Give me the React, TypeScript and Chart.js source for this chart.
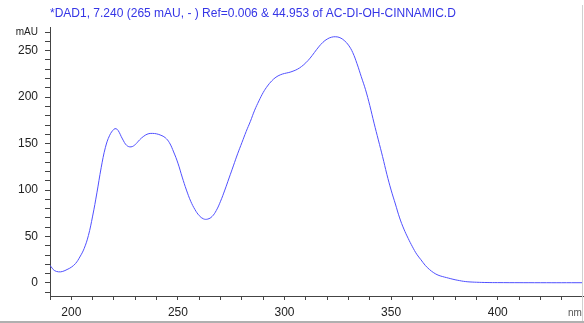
import React, { useEffect, useRef } from "react";
import { Chart, registerables } from "chart.js";

Chart.register(...registerables);

const titleText = "*DAD1, 7.240 (265 mAU, - ) Ref=0.006 & 44.953 of AC-DI-OH-CINNAMIC.D";

const wavelengths = [
  190, 191, 192, 194, 196, 198, 200, 202, 204, 206, 208, 210, 212, 214, 216, 218, 220, 221, 222, 224,
  226, 228, 230, 232, 234, 236, 238, 240, 242, 244, 246, 248, 250, 252, 254, 256, 258, 260, 262, 264,
  266, 268, 270, 272, 274, 276, 278, 280, 282, 284, 286, 288, 290, 292, 294, 296, 298, 300, 302, 304,
  306, 308, 310, 312, 314, 316, 318, 320, 322, 324, 326, 328, 330, 332, 334, 336, 338, 340, 342, 344,
  346, 348, 350, 352, 354, 356, 358, 360, 362, 364, 366, 368, 370, 372, 374, 376, 378, 380, 382, 384,
  386, 388, 390, 395, 400, 420, 440,
];

const absorbance = [
  19, 16, 13.5, 12, 12.5, 14.5, 17, 21, 28, 37, 51, 72, 97, 124, 146, 159, 165.5, 166, 164, 155,
  148, 146.5, 149, 154, 158, 160.5, 161, 160.5, 159, 156.5, 151, 141, 129, 114, 100, 88, 79, 72.5, 69, 68.8,
  71.5, 78, 88, 100, 113, 126, 139, 151, 163, 174, 186, 196, 205, 212, 217.5, 221.5, 224, 225.5, 226.5, 228,
  230, 233, 237, 242, 248, 254, 259, 262.5, 264.5, 265, 264, 261, 256, 248, 236, 222, 208, 191, 172, 154,
  136, 117, 100, 85, 70, 58, 48, 39, 31, 25, 19, 14.5, 11, 8.5, 7, 5.8, 4.6, 3.5, 2.6, 1.8,
  1.3, 1, 0.8, 0.5, 0.4, 0.3, 0.3,
];

const xTicks = [190, 200, 210, 220, 230, 240, 250, 260, 270, 280, 290, 300, 310, 320, 330, 340, 350, 360, 370, 380, 390, 400, 410, 420, 430];
const xLabels = [200, 250, 300, 350, 400];
const yTicks = [-10, 0, 10, 20, 30, 40, 50, 60, 70, 80, 90, 100, 110, 120, 130, 140, 150, 160, 170, 180, 190, 200, 210, 220, 230, 240, 250, 260, 270];
const yLabels = [0, 50, 100, 150, 200, 250];
const yUnitTick = 270;

const FONT = '"Liberation Sans", Arial, sans-serif';

export default function App() {
  const ref = useRef<HTMLCanvasElement | null>(null);

  useEffect(() => {
    if (!ref.current) return;
    const decor = {
      id: "decor",
      afterDraw(chart: any) {
        const ctx = chart.ctx;
        ctx.save();
        ctx.font = `12px ${FONT}`;
        ctx.fillStyle = "#3535e6";
        ctx.textBaseline = "alphabetic";
        ctx.textAlign = "left";
        ctx.fillText(titleText, 50, 17);
        ctx.font = `10px ${FONT}`;
        ctx.fillStyle = "#555";
        ctx.fillText("nm", 568, 316);
        ctx.strokeStyle = "#d0d0d0";
        ctx.lineWidth = 1;
        ctx.beginPath();
        ctx.moveTo(582.5, 5);
        ctx.lineTo(582.5, 323);
        ctx.stroke();
        ctx.fillStyle = "#b0b0b0";
        ctx.fillRect(0, 321, 584, 2);
        ctx.restore();
      },
    };
    const chart = new Chart(ref.current, {
      type: "line",
      data: {
        datasets: [
          {
            data: wavelengths.map((x, i) => ({ x, y: absorbance[i] })),
            borderColor: "#5050ff",
            borderWidth: 1,
            pointRadius: 0,
            tension: 0.4,
            fill: false,
          },
        ],
      },
      options: {
        animation: false,
        responsive: false,
        layout: { padding: { top: 27, right: 1, left: 0, bottom: 0 } },
        plugins: { legend: { display: false }, tooltip: { enabled: false }, title: { display: false } },
        scales: {
          x: {
            type: "linear",
            min: 190,
            max: 440,
            afterBuildTicks: (axis: any) => {
              axis.ticks = xTicks.map((v) => ({ value: v }));
            },
            afterFit: (scale: any) => {
              scale.height = 27;
            },
            grid: { drawOnChartArea: false, drawTicks: true, tickLength: 4, color: "#444" },
            border: { display: true, color: "#444", width: 1 },
            ticks: {
              autoSkip: false,
              maxRotation: 0,
              padding: 5,
              color: "#222",
              font: { family: FONT, size: 12 },
              callback: (v: any) => (xLabels.includes(Number(v)) ? String(v) : ""),
            },
          },
          y: {
            type: "linear",
            min: -14,
            max: 275.5,
            afterBuildTicks: (axis: any) => {
              axis.ticks = yTicks.map((v) => ({ value: v }));
            },
            afterFit: (scale: any) => {
              scale.width = 50;
            },
            grid: { drawOnChartArea: false, drawTicks: true, tickLength: 5, color: "#444" },
            border: { display: true, color: "#444", width: 1 },
            ticks: {
              autoSkip: false,
              padding: 7,
              color: "#222",
              font: (c: any) =>
                c.tick && c.tick.value === yUnitTick ? { family: FONT, size: 10 } : { family: FONT, size: 12 },
              callback: (v: any) =>
                Number(v) === yUnitTick ? "mAU" : yLabels.includes(Number(v)) ? String(v) : "",
            },
          },
        },
      },
      plugins: [decor],
    } as any);
    return () => chart.destroy();
  }, []);

  return (
    <div style={{ position: "fixed", left: 0, top: 0, width: 584, height: 323, background: "#fff" }}>
      <canvas ref={ref} width={584} height={323} style={{ width: 584, height: 323, display: "block" }} />
    </div>
  );
}
